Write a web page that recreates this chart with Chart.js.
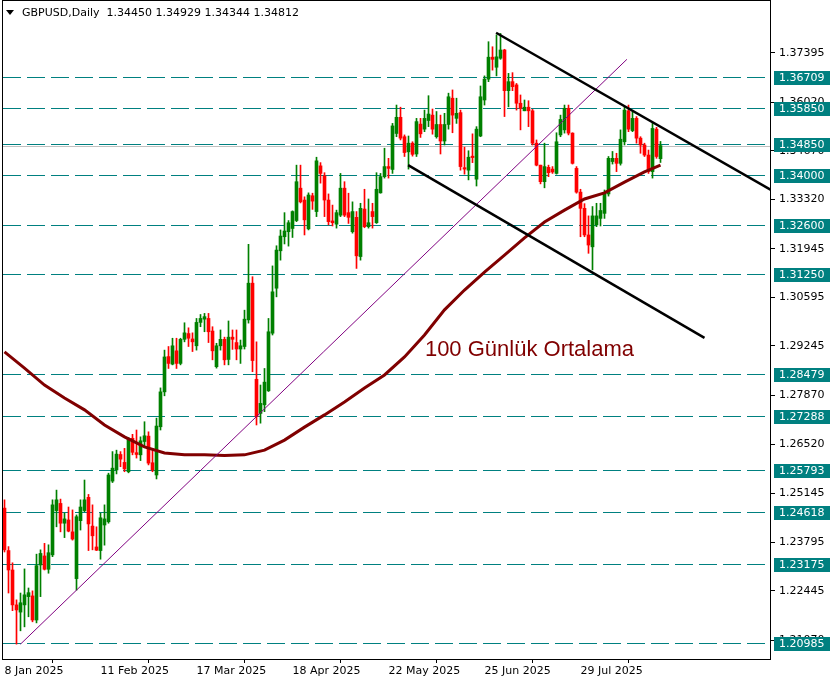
<!DOCTYPE html>
<html>
<head>
<meta charset="utf-8">
<script src="https://cdn.jsdelivr.net/npm/chart.js@4.4.1/dist/chart.umd.min.js"></script>
<style>
  html, body { margin: 0; padding: 0; background: #fff; }
  canvas { display: block; }
</style>
</head>
<body>
<canvas id="myChart" width="836" height="683"></canvas>
<script>
// daily GBPUSD candles, bar 0 = 8 Jan 2025
const opens = [
  1.2474, 1.2356, 1.2302, 1.2205, 1.2185, 1.2205, 1.2228, 1.2230, 1.2163, 1.2316,
  1.2341, 1.2304, 1.2344, 1.2467, 1.2487, 1.2432, 1.2441, 1.2408, 1.2278, 1.2439,
  1.2467, 1.2504, 1.2424, 1.2366, 1.2356, 1.2427, 1.2436, 1.2549, 1.2580, 1.2623,
  1.2601, 1.2575, 1.2668, 1.2628, 1.2622, 1.2659, 1.2674, 1.2600, 1.2566, 1.2700,
  1.2797, 1.2895, 1.2874, 1.2911, 1.2876, 1.2943, 1.2959, 1.2944, 1.2925, 1.2990,
  1.2999, 1.3001, 1.2966, 1.2867, 1.2925, 1.2943, 1.2887, 1.2949, 1.2934, 1.2916,
  1.2923, 1.2997, 1.3099, 1.2832, 1.2737, 1.2761, 1.2800, 1.2960, 1.3085, 1.3189,
  1.3228, 1.3242, 1.3251, 1.3273, 1.3363, 1.3330, 1.3250, 1.3342, 1.3298, 1.3425,
  1.3397, 1.3330, 1.3272, 1.3263, 1.3288, 1.3363, 1.3295, 1.3242, 1.3282, 1.3173,
  1.3305, 1.3256, 1.3298, 1.3267, 1.3350, 1.3395, 1.3423, 1.3415, 1.3515, 1.3560,
  1.3506, 1.3464, 1.3488, 1.3458, 1.3541, 1.3527, 1.3551, 1.3566, 1.3506, 1.3540,
  1.3494, 1.3540, 1.3613, 1.3557, 1.3573, 1.3420, 1.3413, 1.3452, 1.3388, 1.3508,
  1.3608, 1.3666, 1.3727, 1.3699, 1.3724, 1.3747, 1.3634, 1.3659, 1.3650, 1.3599,
  1.3578, 1.3588, 1.3578, 1.3488, 1.3427, 1.3381, 1.3421, 1.3416, 1.3404, 1.3511,
  1.3525, 1.3585, 1.3516, 1.3418, 1.3352, 1.3307, 1.3233, 1.3200, 1.3261, 1.3279,
  1.3293, 1.3347, 1.3437, 1.3446, 1.3432, 1.3492, 1.3578, 1.3523, 1.3557, 1.3502,
  1.3483, 1.3455, 1.3409, 1.3527, 1.34450
];
const highs = [
  1.2497, 1.2367, 1.2322, 1.2219, 1.2238, 1.2305, 1.2252, 1.2244, 1.2346, 1.2358,
  1.2376, 1.2372, 1.2497, 1.2524, 1.2499, 1.2460, 1.2477, 1.2469, 1.2455, 1.2497,
  1.2552, 1.2512, 1.2483, 1.2422, 1.2460, 1.2483, 1.2571, 1.2631, 1.2635, 1.2631,
  1.2640, 1.2670, 1.2679, 1.2691, 1.2672, 1.2714, 1.2686, 1.2635, 1.2724, 1.2808,
  1.2913, 1.2923, 1.2946, 1.2946, 1.2946, 1.2989, 1.2975, 1.2961, 1.3001, 1.3012,
  1.3015, 1.3015, 1.2978, 1.2932, 1.2969, 1.2949, 1.2994, 1.2969, 1.2969, 1.2941,
  1.3024, 1.3207, 1.3117, 1.2936, 1.2816, 1.2862, 1.3001, 1.3147, 1.3203, 1.3247,
  1.3295, 1.3273, 1.3300, 1.3427, 1.3427, 1.3339, 1.3350, 1.3349, 1.3449, 1.3434,
  1.3406, 1.3347, 1.3316, 1.3302, 1.3404, 1.3381, 1.3349, 1.3325, 1.3298, 1.3321,
  1.3360, 1.3333, 1.3321, 1.3406, 1.3404, 1.3474, 1.3446, 1.3543, 1.3594, 1.3588,
  1.3511, 1.3508, 1.3492, 1.3557, 1.3557, 1.3580, 1.3620, 1.3583, 1.3576, 1.3566,
  1.3571, 1.3627, 1.3636, 1.3613, 1.3580, 1.3477, 1.3467, 1.3514, 1.3534, 1.3647,
  1.3675, 1.3770, 1.3756, 1.3789, 1.3793, 1.3749, 1.3682, 1.3684, 1.3654, 1.3622,
  1.3608, 1.3606, 1.3582, 1.3497, 1.3427, 1.3488, 1.3427, 1.3423, 1.3517, 1.3566,
  1.3594, 1.3594, 1.3517, 1.3423, 1.3360, 1.3320, 1.3286, 1.3312, 1.3321, 1.3321,
  1.3358, 1.3451, 1.3465, 1.3460, 1.3525, 1.3589, 1.3594, 1.3576, 1.3562, 1.3506,
  1.3488, 1.3469, 1.3543, 1.3532, 1.34929
];
const lows = [
  1.2352, 1.2238, 1.2189, 1.2096, 1.2133, 1.2144, 1.2172, 1.2158, 1.2155, 1.2228,
  1.2302, 1.2293, 1.2339, 1.2422, 1.2408, 1.2392, 1.2408, 1.2385, 1.2246, 1.2413,
  1.2464, 1.2356, 1.2358, 1.2356, 1.2332, 1.2371, 1.2432, 1.2545, 1.2569, 1.2589,
  1.2575, 1.2572, 1.2622, 1.2613, 1.2606, 1.2645, 1.2594, 1.2575, 1.2555, 1.2691,
  1.2786, 1.2862, 1.2872, 1.2862, 1.2872, 1.2936, 1.2923, 1.2909, 1.2913, 1.2978,
  1.2964, 1.2934, 1.2886, 1.2863, 1.2913, 1.2872, 1.2872, 1.2915, 1.2886, 1.2876,
  1.2916, 1.2988, 1.2853, 1.2705, 1.2710, 1.2742, 1.2798, 1.2955, 1.3061, 1.3163,
  1.3208, 1.3202, 1.3226, 1.3270, 1.3322, 1.3233, 1.3247, 1.3304, 1.3284, 1.3377,
  1.3284, 1.3261, 1.3258, 1.3252, 1.3284, 1.3284, 1.3265, 1.3238, 1.3140, 1.3163,
  1.3253, 1.3252, 1.3252, 1.3265, 1.3349, 1.3391, 1.3391, 1.3404, 1.3506, 1.3497,
  1.3451, 1.3416, 1.3452, 1.3451, 1.3504, 1.3520, 1.3534, 1.3513, 1.3502, 1.3458,
  1.3483, 1.3527, 1.3517, 1.3543, 1.3413, 1.3402, 1.3386, 1.3434, 1.3369, 1.3506,
  1.3594, 1.3659, 1.3691, 1.3675, 1.3721, 1.3562, 1.3589, 1.3634, 1.3580, 1.3525,
  1.3578, 1.3534, 1.3483, 1.3425, 1.3375, 1.3364, 1.3395, 1.3404, 1.3402, 1.3506,
  1.3516, 1.3511, 1.3430, 1.3349, 1.3228, 1.3228, 1.3182, 1.3136, 1.3256, 1.3258,
  1.3279, 1.3341, 1.3430, 1.3409, 1.3427, 1.3483, 1.3520, 1.3520, 1.3488, 1.3460,
  1.3451, 1.3404, 1.3391, 1.3446, 1.34344
];
const closes = [
  1.2358, 1.2302, 1.2205, 1.2191, 1.2211, 1.2233, 1.2239, 1.2163, 1.2314, 1.2348,
  1.2304, 1.2350, 1.2483, 1.2497, 1.2432, 1.2444, 1.2410, 1.2388, 1.2450, 1.2477,
  1.2497, 1.2430, 1.2397, 1.2357, 1.2447, 1.2444, 1.2566, 1.2585, 1.2624, 1.2610,
  1.2583, 1.2668, 1.2629, 1.2623, 1.2661, 1.2675, 1.2599, 1.2580, 1.2702, 1.2797,
  1.2894, 1.2876, 1.2925, 1.2876, 1.2943, 1.2961, 1.2946, 1.2936, 1.2990, 1.3001,
  1.3006, 1.2964, 1.2911, 1.2925, 1.2943, 1.2886, 1.2949, 1.2943, 1.2916, 1.2925,
  1.2999, 1.3099, 1.2884, 1.2728, 1.2765, 1.2824, 1.2964, 1.3075, 1.3191, 1.3230,
  1.3244, 1.3267, 1.3298, 1.3381, 1.3325, 1.3275, 1.3344, 1.3327, 1.3439, 1.3404,
  1.3330, 1.3270, 1.3267, 1.3295, 1.3363, 1.3288, 1.3282, 1.3298, 1.3175, 1.3307,
  1.3256, 1.3267, 1.3284, 1.3360, 1.3395, 1.3423, 1.3418, 1.3536, 1.3560, 1.3502,
  1.3462, 1.3488, 1.3457, 1.3548, 1.3514, 1.3557, 1.3569, 1.3527, 1.3540, 1.3494,
  1.3540, 1.3617, 1.3566, 1.3571, 1.3423, 1.3416, 1.3449, 1.3448, 1.3527, 1.3617,
  1.3666, 1.3727, 1.3721, 1.3728, 1.3747, 1.3634, 1.3659, 1.3645, 1.3599, 1.3585,
  1.3588, 1.3578, 1.3488, 1.3427, 1.3381, 1.3423, 1.3406, 1.3408, 1.3492, 1.3554,
  1.3585, 1.3516, 1.3432, 1.3352, 1.3307, 1.3233, 1.3205, 1.3286, 1.3286, 1.3301,
  1.3349, 1.3446, 1.3446, 1.3432, 1.3499, 1.3580, 1.3527, 1.3557, 1.3502, 1.3483,
  1.3455, 1.3409, 1.3529, 1.3451, 1.34812
];

// 100 day moving average, read at every 5th bar
const maBars = [0, 5, 10, 15, 20, 25, 30, 35, 40, 45, 50, 55, 60, 65, 70, 75, 80, 85, 90, 95,
  100, 105, 110, 115, 120, 125, 130, 135, 140, 145, 150, 155, 160, 164];
const maValues = [1.2908, 1.2863, 1.2816, 1.2780, 1.2747, 1.2705, 1.2672, 1.2644, 1.2627, 1.2622,
  1.2622, 1.2620, 1.2622, 1.2635, 1.2663, 1.2699, 1.2733, 1.2769, 1.2808, 1.2844,
  1.2894, 1.2955, 1.3025, 1.3080, 1.3130, 1.3177, 1.3225, 1.3269, 1.3302, 1.3333,
  1.3350, 1.3380, 1.3408, 1.3427];

// drawn objects: [barIndex, price] pairs
const purpleLine = [[4, 1.2096], [155.6, 1.3721]];
const upperChannel = [[122.9, 1.3795], [191.6, 1.3358]];
const lowerChannel = [[100.9, 1.3427], [175, 1.2947]];

const levels = [1.36709, 1.35850, 1.34850, 1.34000, 1.32600, 1.31250, 1.28479, 1.27288,
  1.25793, 1.24618, 1.23175, 1.20985];
const bidPrice = 1.34812;

const yTicks = [1.37395, 1.36020, 1.34670, 1.33320, 1.31945, 1.30595, 1.29245, 1.27870,
  1.26520, 1.25145, 1.23795, 1.22445, 1.21070];
const xTickBars = [0, 24, 48, 72, 96, 120, 144];
const xTickLabels = ['8 Jan 2025', '11 Feb 2025', '17 Mar 2025', '18 Apr 2025', '22 May 2025',
  '25 Jun 2025', '29 Jul 2025'];

const titleText = 'GBPUSD,Daily  1.34450 1.34929 1.34344 1.34812';
const maLabel = '100 Günlük Ortalama';

const UP = '#008000';
const DOWN = '#ff0000';
const TEAL = '#008080';

Chart.defaults.font.family = 'DejaVu Sans';
Chart.defaults.font.size = 11;
Chart.defaults.color = '#000';

const candleColors = opens.map((o, i) => closes[i] >= o ? UP : DOWN);

const overlay = {
    id: 'overlay',
    beforeDatasetsDraw(chart) {
        const { ctx, chartArea: a, scales: { y } } = chart;
        ctx.save();
        ctx.beginPath();
        ctx.rect(a.left, a.top, a.right - a.left, a.bottom - a.top);
        ctx.clip();
        ctx.lineWidth = 1;

        // bid line
        ctx.strokeStyle = '#c0c0c0';
        let py = Math.round(y.getPixelForValue(bidPrice)) + 0.5;
        ctx.beginPath();
        ctx.moveTo(a.left, py);
        ctx.lineTo(a.right, py);
        ctx.stroke();

        // horizontal levels
        ctx.strokeStyle = TEAL;
        ctx.setLineDash([18, 6]);
        levels.forEach(l => {
            const ly = Math.round(y.getPixelForValue(l)) + 0.5;
            ctx.beginPath();
            ctx.moveTo(a.left, ly);
            ctx.lineTo(a.right, ly);
            ctx.stroke();
        });
        ctx.restore();
    },
    afterDraw(chart) {
        const { ctx, chartArea: a, scales: { x, y } } = chart;
        ctx.save();

        // frame
        ctx.strokeStyle = '#000';
        ctx.lineWidth = 1;
        ctx.strokeRect(a.left - 0.5, a.top - 0.5, a.right - a.left, a.bottom - a.top + 1);

        // level price boxes
        ctx.font = '11px "DejaVu Sans"';
        ctx.textBaseline = 'middle';
        ctx.textAlign = 'left';
        levels.forEach(l => {
            const ly = Math.round(y.getPixelForValue(l));
            ctx.fillStyle = TEAL;
            ctx.fillRect(a.right + 3, ly - 6, 56, 14);
            ctx.fillStyle = '#fff';
            ctx.fillText(l.toFixed(5), a.right + 8, ly + 1);
        });

        // title
        ctx.fillStyle = '#000';
        ctx.beginPath();
        ctx.moveTo(6, 10);
        ctx.lineTo(14, 10);
        ctx.lineTo(10, 15);
        ctx.closePath();
        ctx.fill();
        ctx.fillText(titleText, 22, 13);

        // moving average caption
        ctx.fillStyle = '#800000';
        ctx.font = '22px "Liberation Sans"';
        ctx.fillText(maLabel, x.getPixelForValue(105.1), y.getPixelForValue(1.2913));
        ctx.restore();
    }
};

function lineSet(points, color, width, order) {
    return {
        type: 'line',
        data: points.map(p => ({ x: p[0], y: p[1] })),
        borderColor: color,
        borderWidth: width,
        pointRadius: 0,
        fill: false,
        order: order
    };
}

const bars = opens.map((o, i) => i);

const ctx = document.getElementById('myChart').getContext('2d');
const chartInstance = new Chart(ctx, {
    data: {
        datasets: [
            {
                type: 'bar',
                data: bars.map(i => ({ x: i, y: [lows[i], highs[i]] })),
                backgroundColor: candleColors,
                barThickness: 1,
                grouped: false,
                borderWidth: 0,
                order: 6
            },
            {
                type: 'bar',
                data: bars.map(i => ({ x: i, y: [opens[i], closes[i]] })),
                backgroundColor: candleColors,
                barThickness: 3,
                minBarLength: 1,
                grouped: false,
                borderWidth: 0,
                order: 5
            },
            lineSet(maBars.map((b, k) => [b, maValues[k]]), '#800000', 3, 4),
            lineSet(purpleLine, '#800080', 1, 3),
            lineSet(upperChannel, '#000', 2.5, 2),
            lineSet(lowerChannel, '#000', 2.5, 1)
        ]
    },
    options: {
        responsive: false,
        animation: false,
        devicePixelRatio: 1,
        layout: { padding: { left: 3, top: 1, right: 0, bottom: 0 } },
        plugins: { legend: { display: false }, tooltip: { enabled: false } },
        scales: {
            x: {
                type: 'linear',
                min: -0.375,
                max: 191.625,
                offset: false,
                afterFit(scale) {
                    scale.height = 24;
                    scale.paddingLeft = 0;
                    scale.paddingRight = 0;
                },
                afterBuildTicks(scale) { scale.ticks = xTickBars.map(v => ({ value: v })); },
                grid: { drawOnChartArea: false, drawTicks: true, tickLength: 4, color: '#000' },
                border: { display: false },
                ticks: {
                    autoSkip: false,
                    maxRotation: 0,
                    minRotation: 0,
                    align: 'start',
                    padding: 2,
                    callback: (v, i) => xTickLabels[i]
                }
            },
            y: {
                type: 'linear',
                position: 'right',
                min: 1.205467,
                max: 1.388312,
                afterFit(scale) {
                    scale.width = 65;
                    scale.paddingTop = 0;
                    scale.paddingBottom = 0;
                },
                afterBuildTicks(scale) { scale.ticks = yTicks.map(v => ({ value: v })); },
                grid: { drawOnChartArea: false, drawTicks: true, tickLength: 4, color: '#000' },
                border: { display: false },
                ticks: {
                    padding: 4,
                    callback: v => v.toFixed(5)
                }
            }
        }
    },
    plugins: [overlay]
});
</script>
</body>
</html>
